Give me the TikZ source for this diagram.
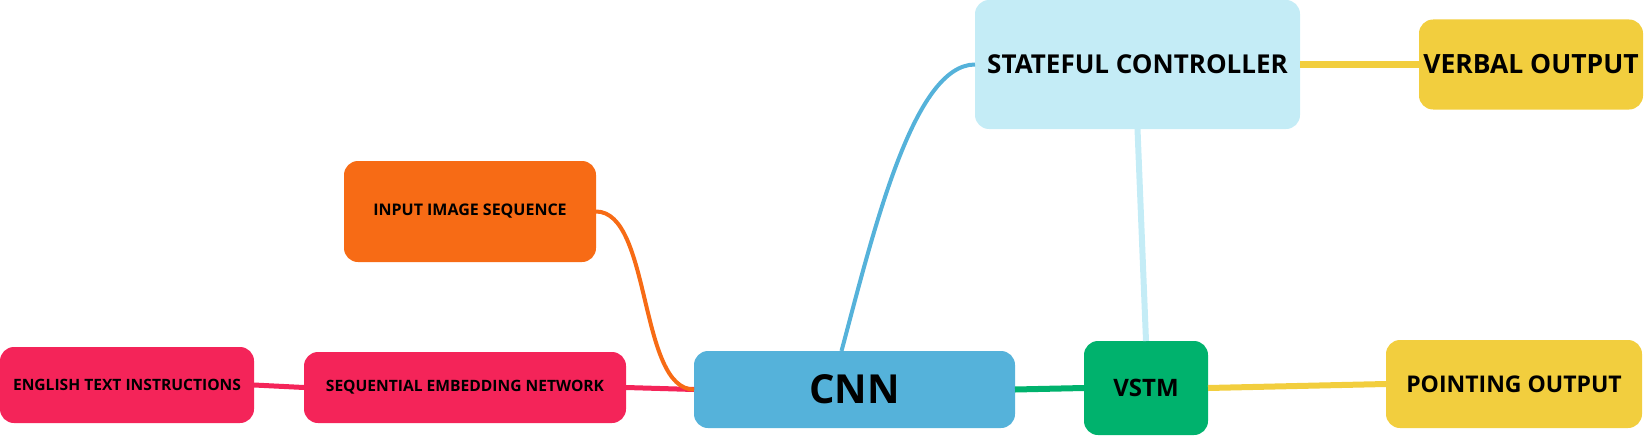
\documentclass[tikz,border=0pt]{standalone}
\usepackage{fontspec}
\setmainfont{Open Sans}
\usepackage{tikz}
\usetikzlibrary{positioning}
\definecolor{crimson}{HTML}{F42459}
\definecolor{tangerine}{HTML}{F76B15}
\definecolor{skyblue}{HTML}{55B2DA}
\definecolor{paleblue}{HTML}{C4ECF6}
\definecolor{jade}{HTML}{00B26D}
\definecolor{mustard}{HTML}{F2CE3E}

\begin{document}
\begin{tikzpicture}[x=1pt,y=-1pt,line width=5pt]
\tikzstyle{topic}=[rounded corners=14pt, inner sep=0pt, outer sep=0pt, text=black]
\tikzstyle{small}=[font=\bfseries\fontsize{15.6}{18}\selectfont]
\tikzstyle{mid}=[font=\bfseries\fontsize{26}{30}\selectfont]
\tikzstyle{big}=[font=\bfseries\fontsize{40}{46}\selectfont]
\useasboundingbox (0,0) rectangle (1645,436);
\node[topic,small,fill=crimson,minimum width=254pt,minimum height=76pt] (eng) at (127,385) {ENGLISH TEXT INSTRUCTIONS};
\node[topic,small,fill=crimson,minimum width=322pt,minimum height=71pt] (seq) at (465,387.5) {SEQUENTIAL EMBEDDING NETWORK};
\node[topic,small,font=\bfseries\fontsize{16}{19}\selectfont,fill=tangerine,minimum width=252pt,minimum height=101pt] (inp) at (470,211.5) {INPUT IMAGE SEQUENCE};
\node[topic,big,fill=skyblue,minimum width=321pt,minimum height=77pt] (cnn) at (854.5,389.5) {CNN};
\node[topic,mid,fill=paleblue,minimum width=325pt,minimum height=129pt] (stat) at (1137.5,64.5) {STATEFUL CONTROLLER};
\node[topic,mid,font=\bfseries\fontsize{26.5}{30}\selectfont,fill=mustard,minimum width=224pt,minimum height=90pt,right=119pt of stat] (verbal) {VERBAL OUTPUT};
\node[topic,mid,font=\bfseries\fontsize{24}{28}\selectfont,fill=jade,minimum width=124pt,minimum height=94pt] (vstm) at (1146,388) {VSTM};
\node[topic,mid,font=\bfseries\fontsize{23}{27}\selectfont,fill=mustard,minimum width=256pt,minimum height=88pt] (point) at (1514,384) {POINTING OUTPUT};
\path (eng.east) edge[crimson] (seq.west)
      (seq.east) edge[crimson] (cnn.west)
      (inp.east) edge[tangerine,line width=4pt,out=0,in=180,looseness=0.7] (cnn.west)
      ([xshift=-13pt]cnn.north) edge[skyblue,line width=4pt,out=75,in=180,in looseness=0.5] (stat.west)
      (stat.south) edge[paleblue,line width=6pt] (vstm.north)
      (cnn.east) edge[jade,line width=6pt] (vstm.west)
      (vstm.east) edge[mustard,line width=6pt] (point.west)
      (stat.east) edge[mustard,line width=6pt] (verbal.west);
\end{tikzpicture}
\end{document}
